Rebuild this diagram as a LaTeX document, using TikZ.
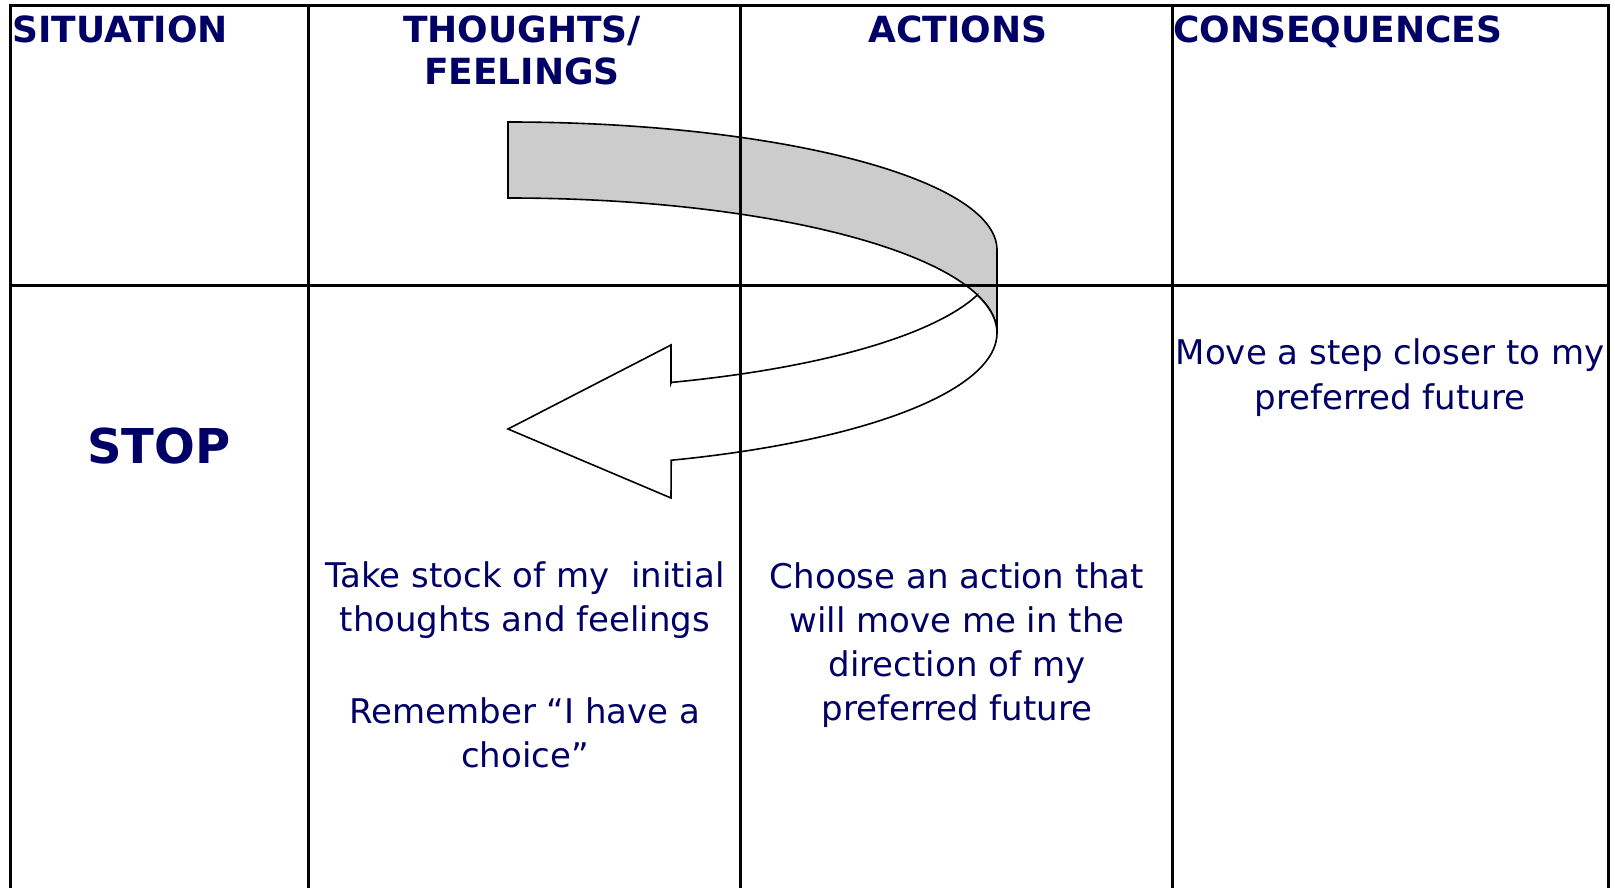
\documentclass[tikz,border=0pt]{standalone}
\usepackage{fontspec}
\setmainfont{DejaVu Sans}
\definecolor{navytext}{RGB}{0,0,102}
\definecolor{bandgray}{RGB}{204,204,204}
\begin{document}
\begin{tikzpicture}[x=1pt,y=-1pt,
  tablerule/.style={line width=3pt},
  outline/.style={draw=black, line width=1.6pt, line join=miter},
  hdr/.style={font=\bfseries\fontsize{36}{42}\selectfont, text=navytext, inner sep=0pt, align=center},
  bodytext/.style={font=\fontsize{34}{44}\selectfont, text=navytext, inner sep=0pt, align=center}]
\useasboundingbox (0,0) rectangle (1615,888);
% curved arrow: grey band
\path[outline, fill=bandgray] (508,122) .. controls (778,122) and (997,179) .. (997,250)
  -- (997,333) .. controls (997,258) and (778,198) .. (508,198) -- cycle;
% curved arrow: white body and head
\path[outline, fill=white]
  plot[domain=0:70.5, samples=40, smooth, variable=\t] ({508+489*cos(\t)},{333+135*sin(\t)})
  -- (671,498) -- (508,429) -- (671,345) -- (671,383)
  -- plot[domain=70.5:16.3, samples=40, smooth, variable=\t] ({508+489*cos(\t)},{258+132*sin(\t)})
  -- plot[domain=-16.3:0, samples=10, smooth, variable=\t] ({508+489*cos(\t)},{333+135*sin(\t)})
  -- cycle;
% table rules
\draw[tablerule] (10,888) -- (10,6) -- (1608,6) -- (1608,888);
\draw[tablerule] (308,6) -- (308,888);
\draw[tablerule] (740,6) -- (740,888);
\draw[tablerule] (1172,6) -- (1172,888);
\draw[tablerule] (10,285) -- (1608,285);
% headers (multi-line nodes are placed by the baseline of their last line)
\node[hdr, anchor=base west] (situation) at (12,43) {SITUATION};
\node[hdr, anchor=base] (thoughts) at (522,85) {THOUGHTS/\\FEELINGS};
\node[hdr, anchor=base] (actions) at (958,43) {ACTIONS};
\node[hdr, anchor=base west] (consequences) at (1173,43) {CONSEQUENCES};
% body
\node[hdr, font=\bfseries\fontsize{48}{54}\selectfont, anchor=base] (stop) at (159,463) {STOP};
\node[bodytext, anchor=base] (takestock) at (525,767) {Take stock of my\ \ initial\\thoughts and feelings\\[48pt]Remember “I have a\\choice”};
\node[bodytext, anchor=base] (choose) at (957,720) {Choose an action that\\will move me in the\\direction of my\\preferred future};
\node[bodytext, font=\fontsize{34}{45}\selectfont, anchor=base] (movestep) at (1390,409) {Move a step closer to my\\preferred future};
\end{tikzpicture}
\end{document}
